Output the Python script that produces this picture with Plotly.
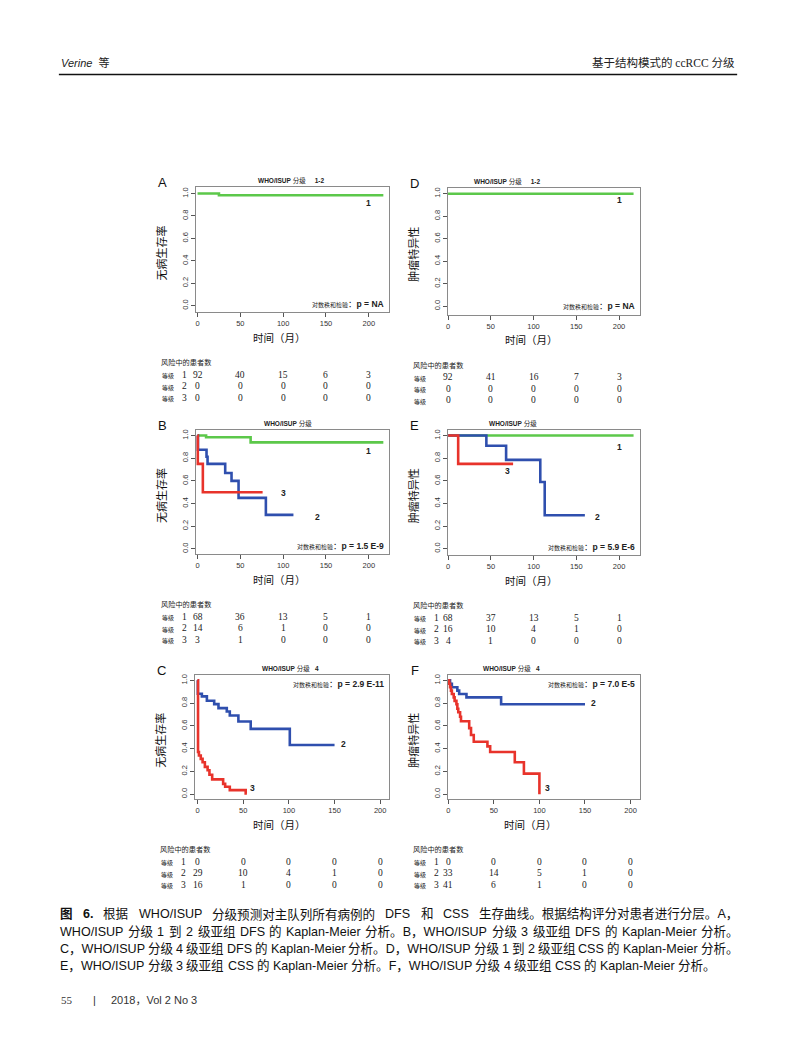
import plotly.graph_objects as go

W, H = 797, 1061
OFF = 8            # browser body margin
FW, FH = W - OFF, H - OFF

# ---------------- data ----------------
# Panel A: DFS, WHO/ISUP 1-2
A_g1_t = [0, 25, 217]
A_g1_s = [1.0, 0.985, 0.985]
# Panel D: CSS, WHO/ISUP 1-2
D_g1_t = [0, 217]
D_g1_s = [1.0, 1.0]
# Panel B: DFS, WHO/ISUP 3
B_g1_t = [0, 10, 62, 217]
B_g1_s = [1.0, 0.985, 0.94, 0.94]
B_g2_t = [0, 0.5, 10.5, 11.7, 32.3, 39.7, 47.9, 79.8, 112]
B_g2_s = [1.0, 0.875, 0.8125, 0.75, 0.67, 0.60, 0.45, 0.30, 0.30]
B_g3_t = [0, 0.3, 6.2, 76]
B_g3_s = [1.0, 0.75, 0.5, 0.5]
# Panel E: CSS, WHO/ISUP 3
E_g1_t = [0, 217]
E_g1_s = [1.0, 1.0]
E_g2_t = [0, 44.7, 67.8, 107.8, 113, 160]
E_g2_s = [1.0, 0.91, 0.785, 0.59, 0.295, 0.295]
E_g3_t = [0, 11.7, 76]
E_g3_s = [1.0, 0.75, 0.75]
# Panel C: DFS, WHO/ISUP 4
C_g2_t = [0, 0.3, 4.7, 10.2, 18.2, 22.9, 32, 35.3, 44.7, 58.2, 101, 150]
C_g2_s = [1.0, 0.882, 0.859, 0.821, 0.791, 0.756, 0.726, 0.691, 0.638, 0.574, 0.432, 0.432]
C_g3_t = [0, 0.5, 1.5, 3.5, 5.5, 8, 11, 13, 16, 28, 30.2, 35.3, 52.7, 54]
C_g3_s = [1.0, 0.37, 0.34, 0.31, 0.28, 0.24, 0.21, 0.17, 0.13, 0.09, 0.065, 0.035, 0.006, 0.006]
# Panel F: CSS, WHO/ISUP 4
F_g2_t = [0, 2, 4, 10, 12, 20, 58, 150]
F_g2_s = [1.0, 0.97, 0.94, 0.91, 0.88, 0.85, 0.79, 0.79]
F_g3_t = [0, 1, 2, 3, 4, 6, 7, 9, 10, 11, 13, 14, 23, 25, 28, 43, 46, 73, 83, 100]
F_g3_s = [1.0, 0.97, 0.94, 0.91, 0.88, 0.85, 0.82, 0.79, 0.75, 0.72, 0.68, 0.64, 0.58, 0.52, 0.46, 0.42, 0.37, 0.28, 0.18, 0.0]

x_ticks = [0, 50, 100, 150, 200]
y_ticks = [0.0, 0.2, 0.4, 0.6, 0.8, 1.0]
y_ticklabels = ["0.0", "0.2", "0.4", "0.6", "0.8", "1.0"]

# risk tables
A_risk = [[92, 40, 15, 6, 3], [0, 0, 0, 0, 0], [0, 0, 0, 0, 0]]
D_risk = [[92, 41, 16, 7, 3], [0, 0, 0, 0, 0], [0, 0, 0, 0, 0]]
B_risk = [[68, 36, 13, 5, 1], [14, 6, 1, 0, 0], [3, 1, 0, 0, 0]]
E_risk = [[68, 37, 13, 5, 1], [16, 10, 4, 1, 0], [4, 1, 0, 0, 0]]
C_risk = [[0, 0, 0, 0, 0], [29, 10, 4, 1, 0], [16, 1, 0, 0, 0]]
F_risk = [[0, 0, 0, 0, 0], [33, 14, 5, 1, 0], [41, 6, 1, 0, 0]]

p_texts = {"A": "p = NA", "D": "p = NA", "B": "p = 1.5 E-9", "E": "p = 5.9 E-6",
           "C": "p = 2.9 E-11", "F": "p = 7.0 E-5"}

GREEN = "#5cc84a"
BLUE = "#2f4fae"
RED = "#e8332b"


def px(x):
    return (x - OFF) / FW


def py(y):
    return 1 - (y - OFF) / FH


fig = go.Figure()

panels = {
    "A": dict(n=1, box=(194.3, 388.3, 186, 311.7), xr=[-2, 224], yr=[-0.06, 1.06]),
    "D": dict(n=2, box=(446.7, 640, 186.7, 314), xr=[-0.5, 225], yr=[-0.075, 1.055]),
    "B": dict(n=3, box=(194.3, 388.3, 429.3, 554), xr=[-2, 224], yr=[-0.05, 1.05]),
    "E": dict(n=4, box=(446.7, 640, 429.3, 555), xr=[-0.7, 225], yr=[-0.06, 1.05]),
    "C": dict(n=5, box=(193.3, 388.3, 674.3, 799), xr=[-3, 210], yr=[-0.045, 1.05]),
    "F": dict(n=6, box=(446.7, 639.3, 674.3, 799), xr=[-0.7, 210], yr=[-0.045, 1.05]),
}

curves = {
    "A": [(A_g1_t, A_g1_s, GREEN)],
    "D": [(D_g1_t, D_g1_s, GREEN)],
    "B": [(B_g1_t, B_g1_s, GREEN), (B_g2_t, B_g2_s, BLUE), (B_g3_t, B_g3_s, RED)],
    "E": [(E_g1_t, E_g1_s, GREEN), (E_g2_t, E_g2_s, BLUE), (E_g3_t, E_g3_s, RED)],
    "C": [(C_g2_t, C_g2_s, BLUE), (C_g3_t, C_g3_s, RED)],
    "F": [(F_g2_t, F_g2_s, BLUE), (F_g3_t, F_g3_s, RED)],
}

curve_labels = {
    "A": [("1", 200, 0.915)],
    "D": [("1", 200, 0.94)],
    "B": [("1", 200, 0.86), ("3", 100, 0.49), ("2", 140, 0.285)],
    "E": [("1", 200, 0.9), ("3", 69, 0.69), ("2", 175, 0.28)],
    "C": [("2", 160, 0.437), ("3", 60, 0.05)],
    "F": [("2", 159, 0.80), ("3", 109, 0.05)],
}

titles = {
    "A": "<b>WHO/ISUP</b> 分级&nbsp;&nbsp;&nbsp;&nbsp;&nbsp;<b>1-2</b>",
    "D": "<b>WHO/ISUP</b> 分级&nbsp;&nbsp;&nbsp;&nbsp;&nbsp;<b>1-2</b>",
    "B": "<b>WHO/ISUP</b> 分级",
    "E": "<b>WHO/ISUP</b> 分级",
    "C": "<b>WHO/ISUP</b> 分级&nbsp;&nbsp;&nbsp;<b>4</b>",
    "F": "<b>WHO/ISUP</b> 分级&nbsp;&nbsp;&nbsp;<b>4</b>",
}
ylabels = {"A": "无病生存率", "B": "无病生存率", "C": "无病生存率",
           "D": "肿瘤特异性", "E": "肿瘤特异性", "F": "肿瘤特异性"}
risks = {"A": A_risk, "D": D_risk, "B": B_risk, "E": E_risk, "C": C_risk, "F": F_risk}

SANS = "Liberation Sans, Noto Sans CJK SC"
SERIF = "Liberation Serif, Noto Sans CJK SC"
CJK = "Noto Sans CJK SC"
ann = []

for key, p in panels.items():
    n = p["n"]
    l, r, t, b = p["box"]
    xa = "xaxis" if n == 1 else f"xaxis{n}"
    ya = "yaxis" if n == 1 else f"yaxis{n}"
    xref = "x" if n == 1 else f"x{n}"
    yref = "y" if n == 1 else f"y{n}"
    fig.update_layout({
        xa: dict(domain=[px(l), px(r)], range=p["xr"], anchor=yref,
                 tickvals=x_ticks, ticks="outside", ticklen=4, tickcolor="#555",
                 showline=True, mirror=True, linecolor="#8a8a8a", linewidth=1,
                 showgrid=False, zeroline=False,
                 tickfont=dict(family=SANS, size=7.5, color="#333")),
        ya: dict(domain=[py(b), py(t)], range=p["yr"], anchor=xref,
                 tickvals=y_ticks, ticktext=y_ticklabels, tickangle=-90,
                 ticks="outside", ticklen=4, tickcolor="#555",
                 showline=True, mirror=True, linecolor="#8a8a8a", linewidth=1,
                 showgrid=False, zeroline=False,
                 tickfont=dict(family=SANS, size=7.5, color="#333")),
    })
    for (tt, ss, col) in curves[key]:
        fig.add_trace(go.Scatter(x=tt, y=ss, mode="lines", line=dict(color=col, width=2.6, shape="hv"),
                                 xaxis=xref, yaxis=yref, showlegend=False, hoverinfo="skip"))
    for (txt, xv, yv) in curve_labels[key]:
        ann.append(dict(x=xv, y=yv, xref=xref, yref=yref, text=f"<b>{txt}</b>", showarrow=False,
                        font=dict(family=SANS, size=8.5, color="#222")))
    ptxt = "<span style='font-size:6px'>对数秩和检验</span>：<b>" + p_texts[key] + "</b>"
    pyy = t + 9.5 if key in ("C", "F") else b - 8.5
    ann.append(dict(x=px(r - 3), y=py(pyy), xref="paper", yref="paper", xanchor="right", yanchor="middle",
                    text=ptxt, showarrow=False, font=dict(family=SANS, size=8.5, color="#222")))
    cx = (l + r) / 2
    title_y = t - 6.5
    ann.append(dict(x=px(cx - 2 if key in "ADCF" else cx - 5), y=py(title_y), xref="paper", yref="paper",
                    text=titles[key], showarrow=False, yanchor="middle",
                    font=dict(family=SANS, size=6.5, color="#222")))
    ann.append(dict(x=px(l - 33), y=py(t - 4.5), xref="paper", yref="paper", xanchor="center", yanchor="middle",
                    text=key, showarrow=False, font=dict(family=SANS, size=13, color="#111")))
    ann.append(dict(x=px(l - 35), y=py((t + b) / 2 + 3), xref="paper", yref="paper",
                    text=ylabels[key], textangle=-90, showarrow=False, xanchor="center", yanchor="middle",
                    font=dict(family=CJK, size=11, color="#111")))
    ann.append(dict(x=px(cx - 13), y=py(b + 25), xref="paper", yref="paper",
                    text="时间（月）", showarrow=False, xanchor="center", yanchor="middle",
                    font=dict(family=CJK, size=10.5, color="#111")))
    left_col = l - 37
    ann.append(dict(x=px(left_col), y=py(b + 50), xref="paper", yref="paper", xanchor="left", yanchor="middle",
                    text="风险中的患者数", showarrow=False,
                    font=dict(family=CJK, size=7.2, color="#222")))
    row_y = [b + 62.5, b + 74, b + 85.5]
    for i, row in enumerate(risks[key]):
        ann.append(dict(x=px(left_col + 1), y=py(row_y[i] + 1), xref="paper", yref="paper",
                        xanchor="left", yanchor="middle", text="等级", showarrow=False,
                        font=dict(family=CJK, size=6, color="#222")))
        if key != "D":
            ann.append(dict(x=px(l - 11), y=py(row_y[i]), xref="paper", yref="paper",
                            xanchor="center", yanchor="middle", text=str(i + 1), showarrow=False,
                            font=dict(family=SERIF, size=9.5, color="#222")))
        for j, v in enumerate(row):
            ann.append(dict(x=x_ticks[j], y=py(row_y[i]), xref=xref, yref="paper",
                            xanchor="center", yanchor="middle", text=str(v), showarrow=False,
                            font=dict(family=SERIF, size=9.5, color="#222")))

# header
ann.append(dict(x=px(57), y=py(62), xref="paper", yref="paper", xanchor="left", yanchor="middle",
                text="<i>Verine</i>&nbsp;&nbsp;等", showarrow=False,
                font=dict(family=SANS, size=11, color="#222")))
ann.append(dict(x=px(737), y=py(62), xref="paper", yref="paper", xanchor="right", yanchor="middle",
                text="基于结构模式的 ccRCC 分级", showarrow=False,
                font=dict(family=SERIF, size=11.5, color="#222")))

# caption (justified lines, split at spaces)
ARIAL = {" ": 278, ",": 278, ".": 278, "-": 333, "/": 278,
         "A": 667, "B": 667, "C": 722, "D": 722, "E": 667, "F": 611, "G": 778, "H": 722, "I": 278,
         "K": 667, "M": 833, "O": 778, "P": 667, "S": 667, "U": 722, "W": 944,
         "a": 556, "e": 556, "i": 222, "l": 222, "n": 556, "p": 556, "r": 333, "s": 500, "t": 278, "o": 556}


def text_w(s, size):
    w = 0
    for ch in s:
        if ch.isdigit():
            w += 556
        elif ch in ARIAL:
            w += ARIAL[ch]
        else:
            w += 1000
    return w * size / 1000.0


caption_lines = [
    "图 6. 根据 WHO/ISUP 分级预测对主队列所有病例的 DFS 和 CSS 生存曲线。根据结构评分对患者进行分层。A，",
    "WHO/ISUP 分级 1 到 2 级亚组 DFS 的 Kaplan-Meier 分析。B，WHO/ISUP 分级 3 级亚组 DFS 的 Kaplan-Meier 分析。",
    "C，WHO/ISUP 分级 4 级亚组 DFS 的 Kaplan-Meier 分析。D，WHO/ISUP 分级 1 到 2 级亚组 CSS 的 Kaplan-Meier 分析。",
    "E，WHO/ISUP 分级 3 级亚组 CSS 的 Kaplan-Meier 分析。F，WHO/ISUP 分级 4 级亚组 CSS 的 Kaplan-Meier 分析。",
]
cap_y = [914, 931.5, 948.5, 965.5]
CAP_SIZE = 12.55
CAP_L, CAP_R = 57, 737
for li, (line, yy) in enumerate(zip(caption_lines, cap_y)):
    toks = line.split(" ")
    widths = [text_w(tk, CAP_SIZE) for tk in toks]
    if li < len(caption_lines) - 1:
        gap = (CAP_R - CAP_L - sum(widths)) / (len(toks) - 1)
    else:
        gap = 278 * CAP_SIZE / 1000.0
    xcur = CAP_L
    for k, (tk, wd) in enumerate(zip(toks, widths)):
        txt = f"<b>{tk}</b>" if (li == 0 and k < 2) else tk
        ann.append(dict(x=px(xcur), y=py(yy), xref="paper", yref="paper", xanchor="left", yanchor="middle",
                        text=txt, showarrow=False, borderpad=0,
                        font=dict(family=SANS, size=CAP_SIZE, color="#111")))
        xcur += wd + gap

# footer
ann.append(dict(x=px(57), y=py(1000), xref="paper", yref="paper", xanchor="left", yanchor="middle",
                text="55", showarrow=False, font=dict(family=SERIF, size=11, color="#333")))
ann.append(dict(x=px(93), y=py(1000), xref="paper", yref="paper", xanchor="center", yanchor="middle",
                text="|", showarrow=False, font=dict(family=SANS, size=11, color="#333")))
ann.append(dict(x=px(107), y=py(1000), xref="paper", yref="paper", xanchor="left", yanchor="middle",
                text="2018，Vol 2 No 3", showarrow=False, font=dict(family=SANS, size=11, color="#333")))

fig.update_layout(
    width=FW, height=FH, margin=dict(l=0, r=0, t=0, b=0),
    paper_bgcolor="white", plot_bgcolor="white",
    annotations=ann,
    shapes=[dict(type="line", xref="paper", yref="paper", x0=px(57), x1=px(737), y0=py(73.5), y1=py(73.5),
                 line=dict(color="#111", width=1.6))],
    showlegend=False,
)

fig.write_html("out.html")
